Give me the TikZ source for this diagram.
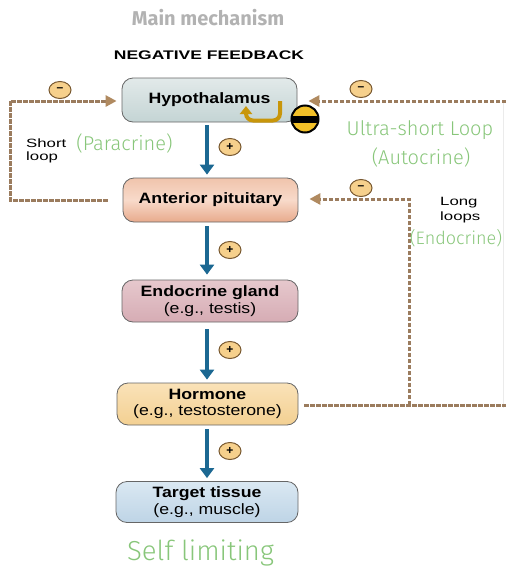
\documentclass[tikz,border=0pt]{standalone}
\usepackage{fontspec}
\setmainfont{Liberation Sans}
\newfontfamily\boxfont[FakeStretch=1.18]{Liberation Sans}
\newfontfamily\smallfont[FakeStretch=1.4]{Liberation Sans}
\newfontfamily\greenfont{Fira Sans Light}
\newfontfamily\titlefont{Fira Sans}
\usetikzlibrary{arrows.meta,shapes.geometric,calc}
\definecolor{fbbrown}{RGB}{155,124,94}
\definecolor{fbtip}{RGB}{176,138,96}
\definecolor{flowblue}{RGB}{28,104,146}
\definecolor{labgreen}{RGB}{136,198,122}
\definecolor{ochre}{RGB}{200,150,10}
\definecolor{signfill}{RGB}{246,208,140}
\definecolor{signdraw}{RGB}{120,88,48}
\definecolor{stopyellow}{RGB}{242,192,40}
\definecolor{hypT}{RGB}{226,234,234}
\definecolor{hypB}{RGB}{196,212,212}
\definecolor{antT}{RGB}{240,196,172}
\definecolor{antM}{RGB}{248,218,202}
\definecolor{antB}{RGB}{232,170,140}
\definecolor{endT}{RGB}{230,200,205}
\definecolor{endB}{RGB}{214,172,180}
\definecolor{horT}{RGB}{250,226,184}
\definecolor{horB}{RGB}{243,208,146}
\definecolor{tarT}{RGB}{218,232,242}
\definecolor{tarB}{RGB}{190,212,230}
\begin{document}
\begin{tikzpicture}[x=1pt,y=-1pt,
  box/.style={draw=black!60,line width=0.8pt,rounded corners=11pt,minimum height=44pt,inner sep=0pt,align=center,
    font=\boxfont\fontsize{15}{16.5}\selectfont},
  flow/.style={draw=flowblue,line width=4pt,-{Triangle[width=14pt,length=10pt]}},
  fb/.style={draw=fbbrown,line width=3pt,dash pattern=on 4.5pt off 1.5pt},
  fbarrow/.style={fb,-{Triangle[width=11pt,length=11pt,fill=fbtip,color=fbtip]}},
  sign/.style={ellipse,draw=signdraw,fill=signfill,line width=1pt,minimum width=22pt,minimum height=17pt,inner sep=0pt,
    font=\bfseries\fontsize{12}{12}\selectfont},
  greenlab/.style={text=labgreen,font=\greenfont\fontsize{20}{22}\selectfont,inner sep=0pt},
  smalllab/.style={font=\smallfont\fontsize{12}{14.5}\selectfont,inner sep=0pt,align=left}
]
\useasboundingbox (0,0) rectangle (506,571);
% titles
\node[text=black!30,font=\titlefont\bfseries\fontsize{20}{20}\selectfont] (title) at (208,18) {Main mechanism};
\node[font=\smallfont\bfseries\fontsize{12.5}{12.5}\selectfont] (neg) at (209,55) {NEGATIVE FEEDBACK};
% boxes
\node[box,minimum width=175pt,top color=hypT,bottom color=hypB] (hyp) at (209.5,100) {\bfseries Hypothalamus};
\node[box,minimum width=175pt,top color=antT,bottom color=antB,middle color=antM] (ant) at (210.5,200) {\bfseries Anterior pituitary};
\node[box,minimum width=176pt,minimum height=42pt,top color=endT,bottom color=endB] (endo) at (210,301) {\textbf{Endocrine gland}\\(e.g., testis)};
\node[box,minimum width=181pt,minimum height=42pt,top color=horT,bottom color=horB] (horm) at (207.5,404) {\textbf{Hormone}\\(e.g., testosterone)};
\node[box,minimum width=182pt,minimum height=41pt,top color=tarT,bottom color=tarB] (targ) at (207,502) {\textbf{Target tissue}\\(e.g., muscle)};
% flow arrows
\coordinate (xa) at (207,0);
\draw[flow,shorten <=3pt,shorten >=3pt] (hyp.south -| xa) -- (ant.north -| xa);
\draw[flow,shorten <=4pt,shorten >=5pt] (ant.south -| xa) -- (endo.north -| xa);
\draw[flow,shorten <=7pt,shorten >=3pt] (endo.south -| xa) -- (horm.north -| xa);
\draw[flow,shorten <=4pt,shorten >=3pt] (horm.south -| xa) -- (targ.north -| xa);
% plus signs
\node[sign] (p1) at (230,147) {+};
\node[sign] (p2) at (230,250) {+};
\node[sign] (p3) at (230,350) {+};
\node[sign] (p4) at (230,451) {+};
% minus signs
\node[sign] (m1) at (60,90) {\raisebox{0.5pt}{--}};
\node[sign] (m2) at (361,89) {\raisebox{0.5pt}{--}};
\node[sign] (m3) at (361,188) {\raisebox{0.5pt}{--}};
% faint border
\draw[black!8,line width=0.8pt] (503,100) -- (503,408);
% short loop
\coordinate (sl1) at (10,200);
\coordinate (sl2) at (10,101);
\draw[fbarrow] ([xshift=-15pt]ant.west) -- (sl1) -- (sl2) -- ([xshift=-5pt]hyp.west |- sl2);
% long loop to hypothalamus
\coordinate (r1) at (506,101);
\draw[fbarrow] (r1) -- ([xshift=11pt]hyp.east |- r1);
% hormone line
\coordinate (r2) at (506,405);
\coordinate (ll1) at (409,405);
\coordinate (ll2) at (409,199);
\draw[fb] ([xshift=6pt]horm.east |- r2) -- (r2);
\draw[fbarrow] (ll1) -- (ll2) -- ([xshift=11pt]ant.east |- ll2);
% ultra-short loop
\draw[ochre,line width=4pt,rounded corners=7pt,-{Triangle[width=12pt,length=8pt]}] (280,101) -- (280,120.5) -- (246,120.5) -- (246,106);
\node[circle,draw=black,line width=2pt,fill=stopyellow,minimum size=27pt,inner sep=0pt,
  path picture={\fill[black] ([yshift=-3.5pt]path picture bounding box.west) rectangle ([yshift=3.5pt]path picture bounding box.east);}] (stop) at (305,119) {};
% labels
\node[smalllab,anchor=west] (short) at (26,143) {Short};
\node[smalllab,anchor=west] (loop) at (26,157.5) {loop};
\node[smalllab,anchor=west] (long) at (440,203) {Long};
\node[smalllab,anchor=west] (loops) at (440,217) {loops};
\node[greenlab] (para) at (124.5,143) {(Paracrine)};
\node[greenlab] (ultra) at (420,130) {Ultra-short Loop};
\node[greenlab] (auto) at (421,157) {(Autocrine)};
\node[greenlab,font=\greenfont\fontsize{18}{20}\selectfont] (endoc) at (456,238) {(Endocrine)};
\node[greenlab,font=\greenfont\fontsize{27.5}{29}\selectfont] (self) at (200.5,553) {Self limiting};
\end{tikzpicture}
\end{document}
